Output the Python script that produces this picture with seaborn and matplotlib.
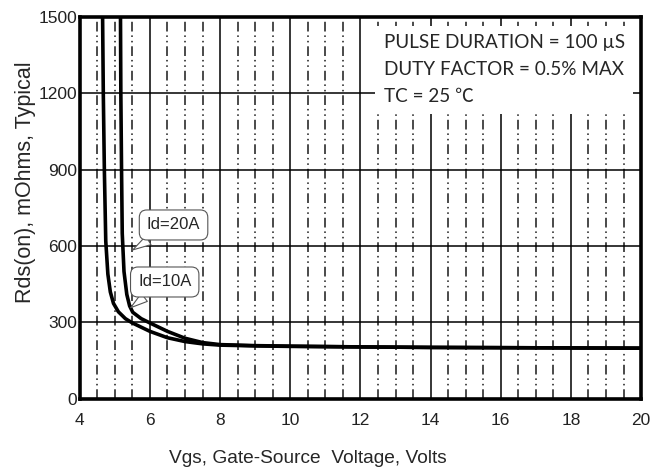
import numpy as np
import pandas as pd
import matplotlib
matplotlib.use('Agg')
import matplotlib.pyplot as plt
from matplotlib.ticker import MultipleLocator
import seaborn as sns

# Rds(on) vs Vgs readings, Id = 10A
vgs_10a = [4.65, 4.67, 4.70, 4.74, 4.80, 4.87, 4.96, 5.10, 5.30, 5.50, 6.0, 6.5, 7.0, 7.5, 8.0, 9.0, 10.0, 12.0, 14.0, 16.0, 18.0, 20.0]
rds_10a = [1500, 1200, 900, 620, 490, 420, 375, 342, 315, 298, 265, 240, 225, 216, 211, 208, 206, 204, 202, 201, 200, 199]

# Rds(on) vs Vgs readings, Id = 20A
vgs_20a = [5.16, 5.17, 5.19, 5.21, 5.26, 5.34, 5.42, 5.51, 5.75, 6.0, 6.5, 7.0, 7.5, 8.0, 9.0, 10.0, 12.0, 14.0, 16.0, 18.0, 20.0]
rds_20a = [1500, 1200, 900, 650, 500, 410, 365, 340, 315, 298, 265, 238, 221, 213, 209, 207, 204, 202, 201, 200, 199]

x_ticks = [4, 6, 8, 10, 12, 14, 16, 18, 20]
y_ticks = [0, 300, 600, 900, 1200, 1500]

df = pd.concat([
    pd.DataFrame({'vgs': vgs_10a, 'rds': rds_10a, 'id': 'Id=10A'}),
    pd.DataFrame({'vgs': vgs_20a, 'rds': rds_20a, 'id': 'Id=20A'}),
])

sns.set_style('white')
plt.rcParams['font.family'] = ['Liberation Sans', 'DejaVu Sans']

fig = plt.figure(figsize=(6.65, 4.72), dpi=100)
ax = fig.add_axes([0.120, 0.155, 0.844, 0.809])

sns.lineplot(data=df, x='vgs', y='rds', units='id', estimator=None, sort=False,
             color='black', linewidth=2.6, ax=ax, zorder=5)

ax.set_xlim(4, 20)
ax.set_ylim(0, 1500)
ax.set_xticks(x_ticks)
ax.set_yticks(y_ticks)
ax.xaxis.set_minor_locator(MultipleLocator(0.5))

# grid: solid majors, dash-dot-dot minors
ax.grid(True, which='major', axis='both', color='black', linewidth=1.1, linestyle='-')
ax.grid(True, which='minor', axis='x', color='#4a4a4a', linewidth=1.4,
        linestyle=(0, (5, 2, 0.8, 2, 0.8, 2)))
ax.set_axisbelow(True)

for s in ax.spines.values():
    s.set_visible(True)
    s.set_color('black')
    s.set_linewidth(2.6)
    s.set_zorder(8)

ax.tick_params(axis='both', which='both', length=0, labelsize=12.5, colors='#222222')
ax.tick_params(axis='x', pad=10)
ax.tick_params(axis='y', pad=2)

ax.set_xlabel('Vgs, Gate-Source  Voltage, Volts', fontsize=13.8)
ax.xaxis.set_label_coords(0.406, -0.135)
ax.set_ylabel('Rds(on), mOhms, Typical', fontsize=15.5)
ax.yaxis.set_label_coords(-0.078, 0.568)

# conditions box
ax.text(12.66, 1432, 'PULSE DURATION = 100 \u00b5S\nDUTY FACTOR = 0.5% MAX\nTC = 25 \u2103',
        family=['Lato', 'Noto Sans CJK SC', 'DejaVu Sans'], fontsize=13.6, va='top', ha='left',
        linespacing=1.72, zorder=6,
        bbox=dict(boxstyle='square,pad=0.45', fc='white', ec='none'))

# callouts
callout = dict(boxstyle='round,pad=0.45', fc='white', ec='#555555', lw=0.8)
ax.annotate('Id=20A', xy=(5.51, 585), xytext=(5.91, 683), fontsize=12,
            bbox=callout, zorder=7, va='center', ha='left',
            arrowprops=dict(arrowstyle='wedge,tail_width=0.6', fc='white', ec='#555555', lw=0.8,
                            shrinkA=0, shrinkB=0))
ax.annotate('Id=10A', xy=(5.45, 358), xytext=(5.66, 459), fontsize=12,
            bbox=callout, zorder=7, va='center', ha='left',
            arrowprops=dict(arrowstyle='wedge,tail_width=0.6', fc='white', ec='#555555', lw=0.8,
                            shrinkA=0, shrinkB=0))

fig.savefig('out.png', dpi=100)
